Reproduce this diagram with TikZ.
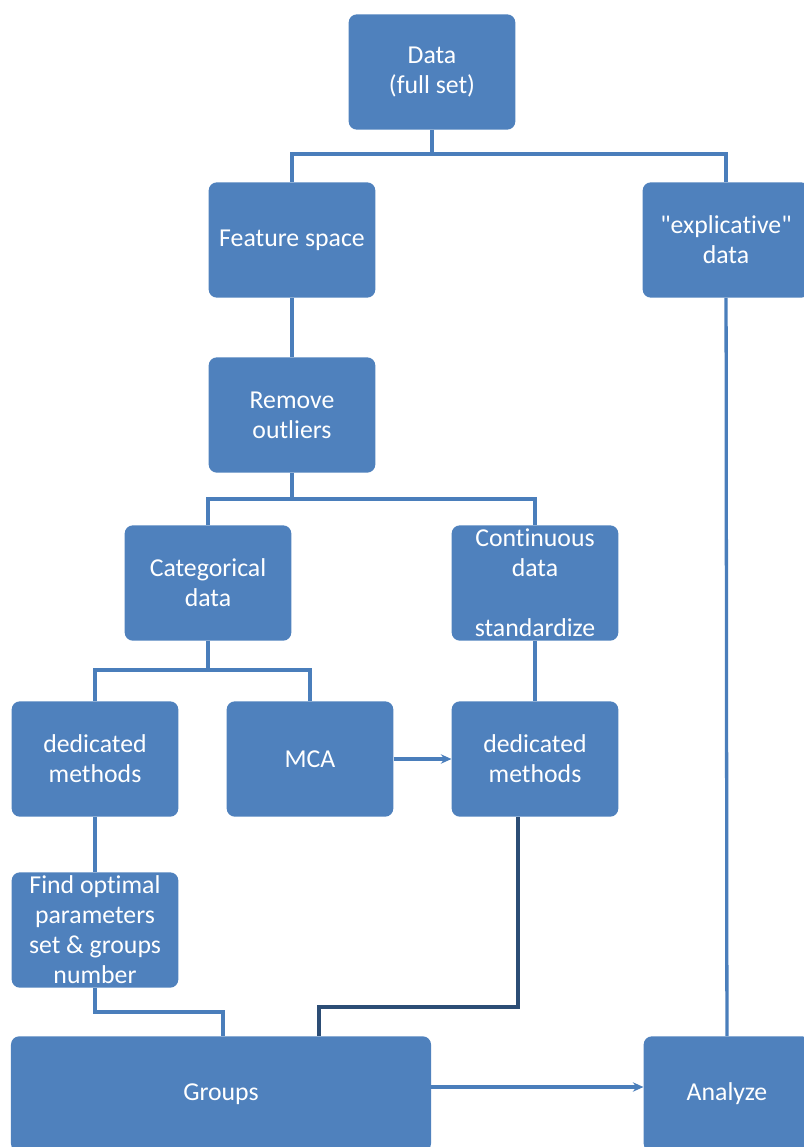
\documentclass[tikz,border=0pt]{standalone}
\usepackage{fontspec}
\setmainfont{Carlito}[Ligatures=NoCommon]
\usepackage{tikz}
\usetikzlibrary{arrows.meta}
\definecolor{boxblue}{RGB}{79,129,189}
\definecolor{lineblue}{RGB}{74,126,187}
\definecolor{darkline}{RGB}{44,77,117}
\tikzset{
  fc/.style={draw=none, fill=boxblue, rounded corners=7pt, text=white, align=center, inner sep=2pt,
             font=\fontsize{22}{25.6}\selectfont, minimum width=5cm, minimum height=3.46cm},
  wide/.style={minimum width=12.6cm},
  conn/.style={draw=lineblue, line width=2.8pt},
  arr/.style={conn, -{Stealth[length=9pt,width=8pt]}},
  darkconn/.style={draw=darkline, line width=3.3pt}
}

\begin{document}
\begin{tikzpicture}[x=0.03cm, y=-0.03cm]
\useasboundingbox (0,0) rectangle (803,1147);
% boxes
\node[fc] (data) at (432,72) {Data\\(full set)};
\node[fc] (feat) at (292,240) {Feature space};
\node[fc] (expl) at (726,240) {\textquotedbl explicative\textquotedbl\\data};
\node[fc] (rem) at (292,415) {Remove\\outliers};
\node[fc] (cat) at (208,583) {Categorical\\data};
\node[fc] (cont) at (535,583) {Continuous\\data\\[25.6pt]standardize};
\node[fc] (ded1) at (95,759) {dedicated\\methods};
\node[fc] (mca) at (310,759) {MCA};
\node[fc] (ded2) at (535,759) {dedicated\\methods};
\node[fc] (find) at (95,930) {Find optimal\\parameters\\set \& groups\\number};
\node[fc, wide] (groups) at (221,1094) {Groups};
\node[fc] (analyze) at (727,1094) {Analyze};
% connectors
\draw[conn] (data.south) -- ++(0,24) -| (feat.north);
\draw[conn] (data.south) -- ++(0,24) -| (expl.north);
\draw[conn] (feat) -- (rem);
\draw[conn] (rem.south) -- ++(0,26) -| (cat.north);
\draw[conn] (rem.south) -- ++(0,26) -| (cont.north);
\draw[conn] (cat.south) -- ++(0,29) -| (ded1.north);
\draw[conn] (cat.south) -- ++(0,29) -| (mca.north);
\draw[conn] (cont) -- (ded2);
\draw[arr] (mca) -- (ded2);
\draw[conn] (ded1) -- (find);
\draw[conn] (find.south) -- ++(0,24) -| ([xshift=0.06cm]groups.north);
\draw[darkconn] ([xshift=-0.51cm]ded2.south) -- ++(0,190) -| ([xshift=2.94cm]groups.north);
\draw[conn] (expl) -- (analyze);
\draw[arr] ([yshift=0.21cm]groups.east) -- ([yshift=0.21cm]analyze.west);
\end{tikzpicture}
\end{document}
